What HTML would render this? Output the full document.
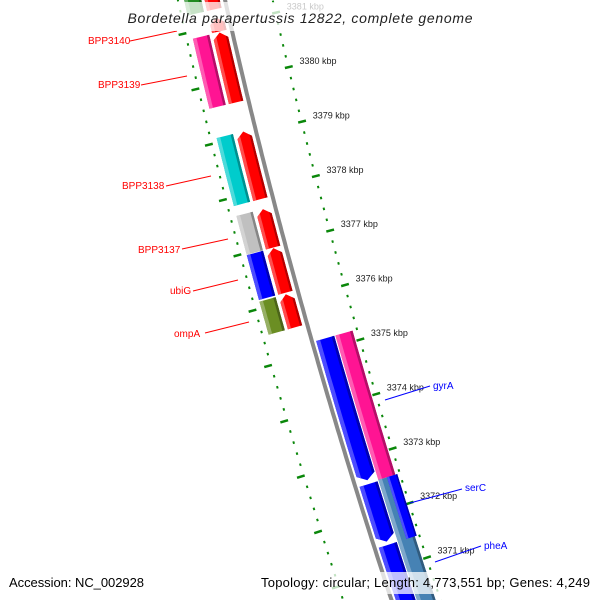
<!DOCTYPE html>
<html><head><meta charset="utf-8"><style>
html,body{margin:0;padding:0;background:#fff;width:600px;height:600px;overflow:hidden;}
svg{display:block;font-family:"Liberation Sans",sans-serif;overflow:hidden;}
</style></head><body>
<svg id="chart" width="600" height="600" viewBox="0 0 600 600" xmlns="http://www.w3.org/2000/svg">
<defs id="defs"></defs>
<g id="ticks"></g>
<g id="backbone"></g>
<g id="features"></g>
<g id="labels">
  <line x1="130" y1="41" x2="177" y2="31" stroke="#f00" stroke-width="1"/>
  <text x="88" y="44" font-size="10" fill="#f00">BPP3140</text>
  <line x1="141" y1="85" x2="187" y2="76" stroke="#f00" stroke-width="1"/>
  <text x="98" y="88" font-size="10" fill="#f00">BPP3139</text>
  <line x1="166" y1="186" x2="211" y2="176" stroke="#f00" stroke-width="1"/>
  <text x="122" y="189" font-size="10" fill="#f00">BPP3138</text>
  <line x1="182" y1="249" x2="228" y2="239" stroke="#f00" stroke-width="1"/>
  <text x="138" y="253" font-size="10" fill="#f00">BPP3137</text>
  <line x1="193" y1="291" x2="238" y2="280" stroke="#f00" stroke-width="1"/>
  <text x="170" y="294" font-size="10" fill="#f00">ubiG</text>
  <line x1="205" y1="333" x2="249" y2="322" stroke="#f00" stroke-width="1"/>
  <text x="174" y="337" font-size="10" fill="#f00">ompA</text>
  <line x1="385" y1="400" x2="430" y2="386" stroke="#00f" stroke-width="1"/>
  <text x="433" y="389" font-size="10" fill="#00f">gyrA</text>
  <line x1="410" y1="503" x2="462" y2="489" stroke="#00f" stroke-width="1"/>
  <text x="465" y="491" font-size="10" fill="#00f">serC</text>
  <line x1="435" y1="562" x2="481" y2="546" stroke="#00f" stroke-width="1"/>
  <text x="484" y="549" font-size="10" fill="#00f">pheA</text>
</g>
<rect x="122" y="2" width="356" height="29" fill="#fff" fill-opacity="0.75"/>
<text x="300" y="23" font-size="14" font-style="italic" text-anchor="middle" fill="#222" textLength="345">Bordetella parapertussis 12822, complete genome</text>
<rect x="5" y="572" width="146" height="22" fill="#fff" fill-opacity="0.75"/>
<text x="9" y="587" font-size="13" fill="#000" textLength="135">Accession: NC_002928</text>
<rect x="256" y="572" width="338" height="22" fill="#fff" fill-opacity="0.75"/>
<text x="590" y="587" font-size="13" fill="#000" text-anchor="end" textLength="329">Topology: circular; Length: 4,773,551 bp; Genes: 4,249</text>
</svg>
<script>
// ---- data (kbp) ----
const tickLabels = [3381,3380,3379,3378,3377,3376,3375,3374,3373,3372,3371];
const fwdNames = ['gene-top','BPP3140','BPP3139','BPP3138','BPP3137','ubiG','ompA'];
const fwdStart = [3381.30,3380.90,3379.61,3377.85,3376.97,3376.15,3375.52];
const fwdEnd   = [3382.50,3381.15,3380.88,3379.08,3377.67,3376.96,3376.12];
const fwdCog   = ['#228B22',null,'#FF1493','#00CCCC','#C0C0C0','#0000FF','#6B8E23'];
const revNames = ['gyrA','serC','pheA'];
const revStart = [3372.60,3371.48,3369.50];
const revEnd   = [3375.19,3372.53,3371.42];
const cogRevNames = ['gyrA-cog','pheA-cog','serC-cog'];
const cogRevStart = [3372.55,3369.50,3371.42];
const cogRevEnd   = [3375.19,3372.55,3372.55];
const cogRevColor = ['#FF1493','#4682B4','#0000FF'];

// ---- geometry ----
const NS='http://www.w3.org/2000/svg';
function yb(p){return 78+(3380-p)*54.9;}
function pt(p,d){
  const y=yb(p); const x=225+0.225*y+0.0000875*y*y;
  const s=0.225+0.000175*y; const n=Math.sqrt(1+s*s);
  return [x+d/n, y-d*s/n];
}
function strip(p1,p2,d1,d2){
  const a=[],b=[],N=20;
  for(let i=0;i<=N;i++){const p=p1+(p2-p1)*i/N;a.push(pt(p,d1));b.push(pt(p,d2));}
  return a.concat(b.reverse()).map(q=>q[0].toFixed(1)+','+q[1].toFixed(1)).join(' ');
}
function shape(p1,p2,d1,d2,dir){
  const al=0.11, m=(d1+d2)/2, pts=[];
  const N=16;
  if(dir===1){
    const e=Math.max(p1,p2-al);
    for(let i=0;i<=N;i++)pts.push(pt(p1+(e-p1)*i/N,d1));
    pts.push(pt(p2,m));
    for(let i=N;i>=0;i--)pts.push(pt(p1+(e-p1)*i/N,d2));
  } else if(dir===-1){
    const s=Math.min(p2,p1+al);
    pts.push(pt(p1,m));
    for(let i=0;i<=N;i++)pts.push(pt(s+(p2-s)*i/N,d2));
    for(let i=N;i>=0;i--)pts.push(pt(s+(p2-s)*i/N,d1));
  } else {
    for(let i=0;i<=N;i++)pts.push(pt(p1+(p2-p1)*i/N,d1));
    for(let i=N;i>=0;i--)pts.push(pt(p1+(p2-p1)*i/N,d2));
  }
  return pts.map(q=>q[0].toFixed(1)+','+q[1].toFixed(1)).join(' ');
}
function mix(hex,t,to){
  const c=[1,3,5].map(i=>parseInt(hex.substr(i,2),16));
  return 'rgb('+c.map(v=>Math.round(v+(to-v)*t)).join(',')+')';
}
let cid=0;
const defs=document.getElementById('defs');
const fg=document.getElementById('features');
function feature(name,p1,p2,d1,d2,dir,color){
  if(p2<=p1)return;
  const id='c'+(cid++);
  const cp=document.createElementNS(NS,'clipPath');cp.setAttribute('id',id);
  const sp=document.createElementNS(NS,'polygon');sp.setAttribute('points',shape(p1,p2,d1,d2,dir));
  cp.appendChild(sp);defs.appendChild(cp);
  const g=document.createElementNS(NS,'g');
  
  
  g.setAttribute('clip-path','url(#'+id+')');
  const w=d2-d1, P1=p1-0.3, P2=p2+0.3;
  const parts=[[d1,d2,color],[d1,d1+0.22*w,mix(color,0.3,255)],[d2-0.15*w,d2,mix(color,0.3,0)]];
  parts.forEach(q=>{const pl=document.createElementNS(NS,'polygon');pl.setAttribute('points',strip(P1,P2,q[0],q[1]));pl.setAttribute('fill',q[2]);g.appendChild(pl);});
  fg.appendChild(g);
}
for(let i=0;i<fwdStart.length;i++){
  feature('gene-'+fwdNames[i].toLowerCase(),fwdStart[i],fwdEnd[i],-20,-5,1,'#FF0000');
  if(fwdCog[i])feature('cog-'+fwdNames[i].toLowerCase(),fwdStart[i],fwdEnd[i],-40,-23,0,fwdCog[i]);
}
for(let i=0;i<revStart.length;i++){
  feature('gene-'+revNames[i].toLowerCase(),revStart[i],revEnd[i],4,23,-1,'#0000FF');
}
for(let i=0;i<cogRevStart.length;i++){
  const over=cogRevColor[i]==='#0000FF';
  feature('cog-'+cogRevNames[i].toLowerCase(),cogRevStart[i],cogRevEnd[i],over?33:24,over?44:42,0,cogRevColor[i]);
}
const bb=document.getElementById('backbone');
{
  const pts=[];for(let p=3383;p>=3368.5;p-=0.1)pts.push(pt(p,0));
  const pl=document.createElementNS(NS,'polyline');
  pl.setAttribute('points',pts.map(q=>q[0].toFixed(1)+','+q[1].toFixed(1)).join(' '));
  pl.setAttribute('fill','none');pl.setAttribute('stroke','#888');pl.setAttribute('stroke-width','4');
  
  
  bb.appendChild(pl);
}
const tg=document.getElementById('ticks');
function seg(p,a,b,w){
  const A=pt(p,a),B=pt(p,b);
  const l=document.createElementNS(NS,'line');
  l.setAttribute('x1',A[0]);l.setAttribute('y1',A[1]);l.setAttribute('x2',B[0]);l.setAttribute('y2',B[1]);
  l.setAttribute('stroke','#0a870a');l.setAttribute('stroke-width',w);
  
  
  tg.appendChild(l);
}
const hi=tickLabels[0]+1, lo=tickLabels[tickLabels.length-1]-1.5;
for(let k=Math.round(hi*5);k>=Math.round(lo*5);k--){
  const p=k/5;
  if(k%5===0){seg(p,43,51,2.5);seg(p,-53,-45,2.5);}
  else{seg(p,45.5,47.5,2.5);seg(p,-47,-45,2.5);}
}
tickLabels.forEach(v=>{
  const q=pt(v,58);
  const t=document.createElementNS(NS,'text');
  t.setAttribute('x',q[0].toFixed(1));t.setAttribute('y',(q[1]-0.5).toFixed(1));
  t.setAttribute('font-size','9');t.setAttribute('fill','#222');
  
  
  t.textContent=v+' kbp';
  tg.appendChild(t);
});
</script>
</body></html>
